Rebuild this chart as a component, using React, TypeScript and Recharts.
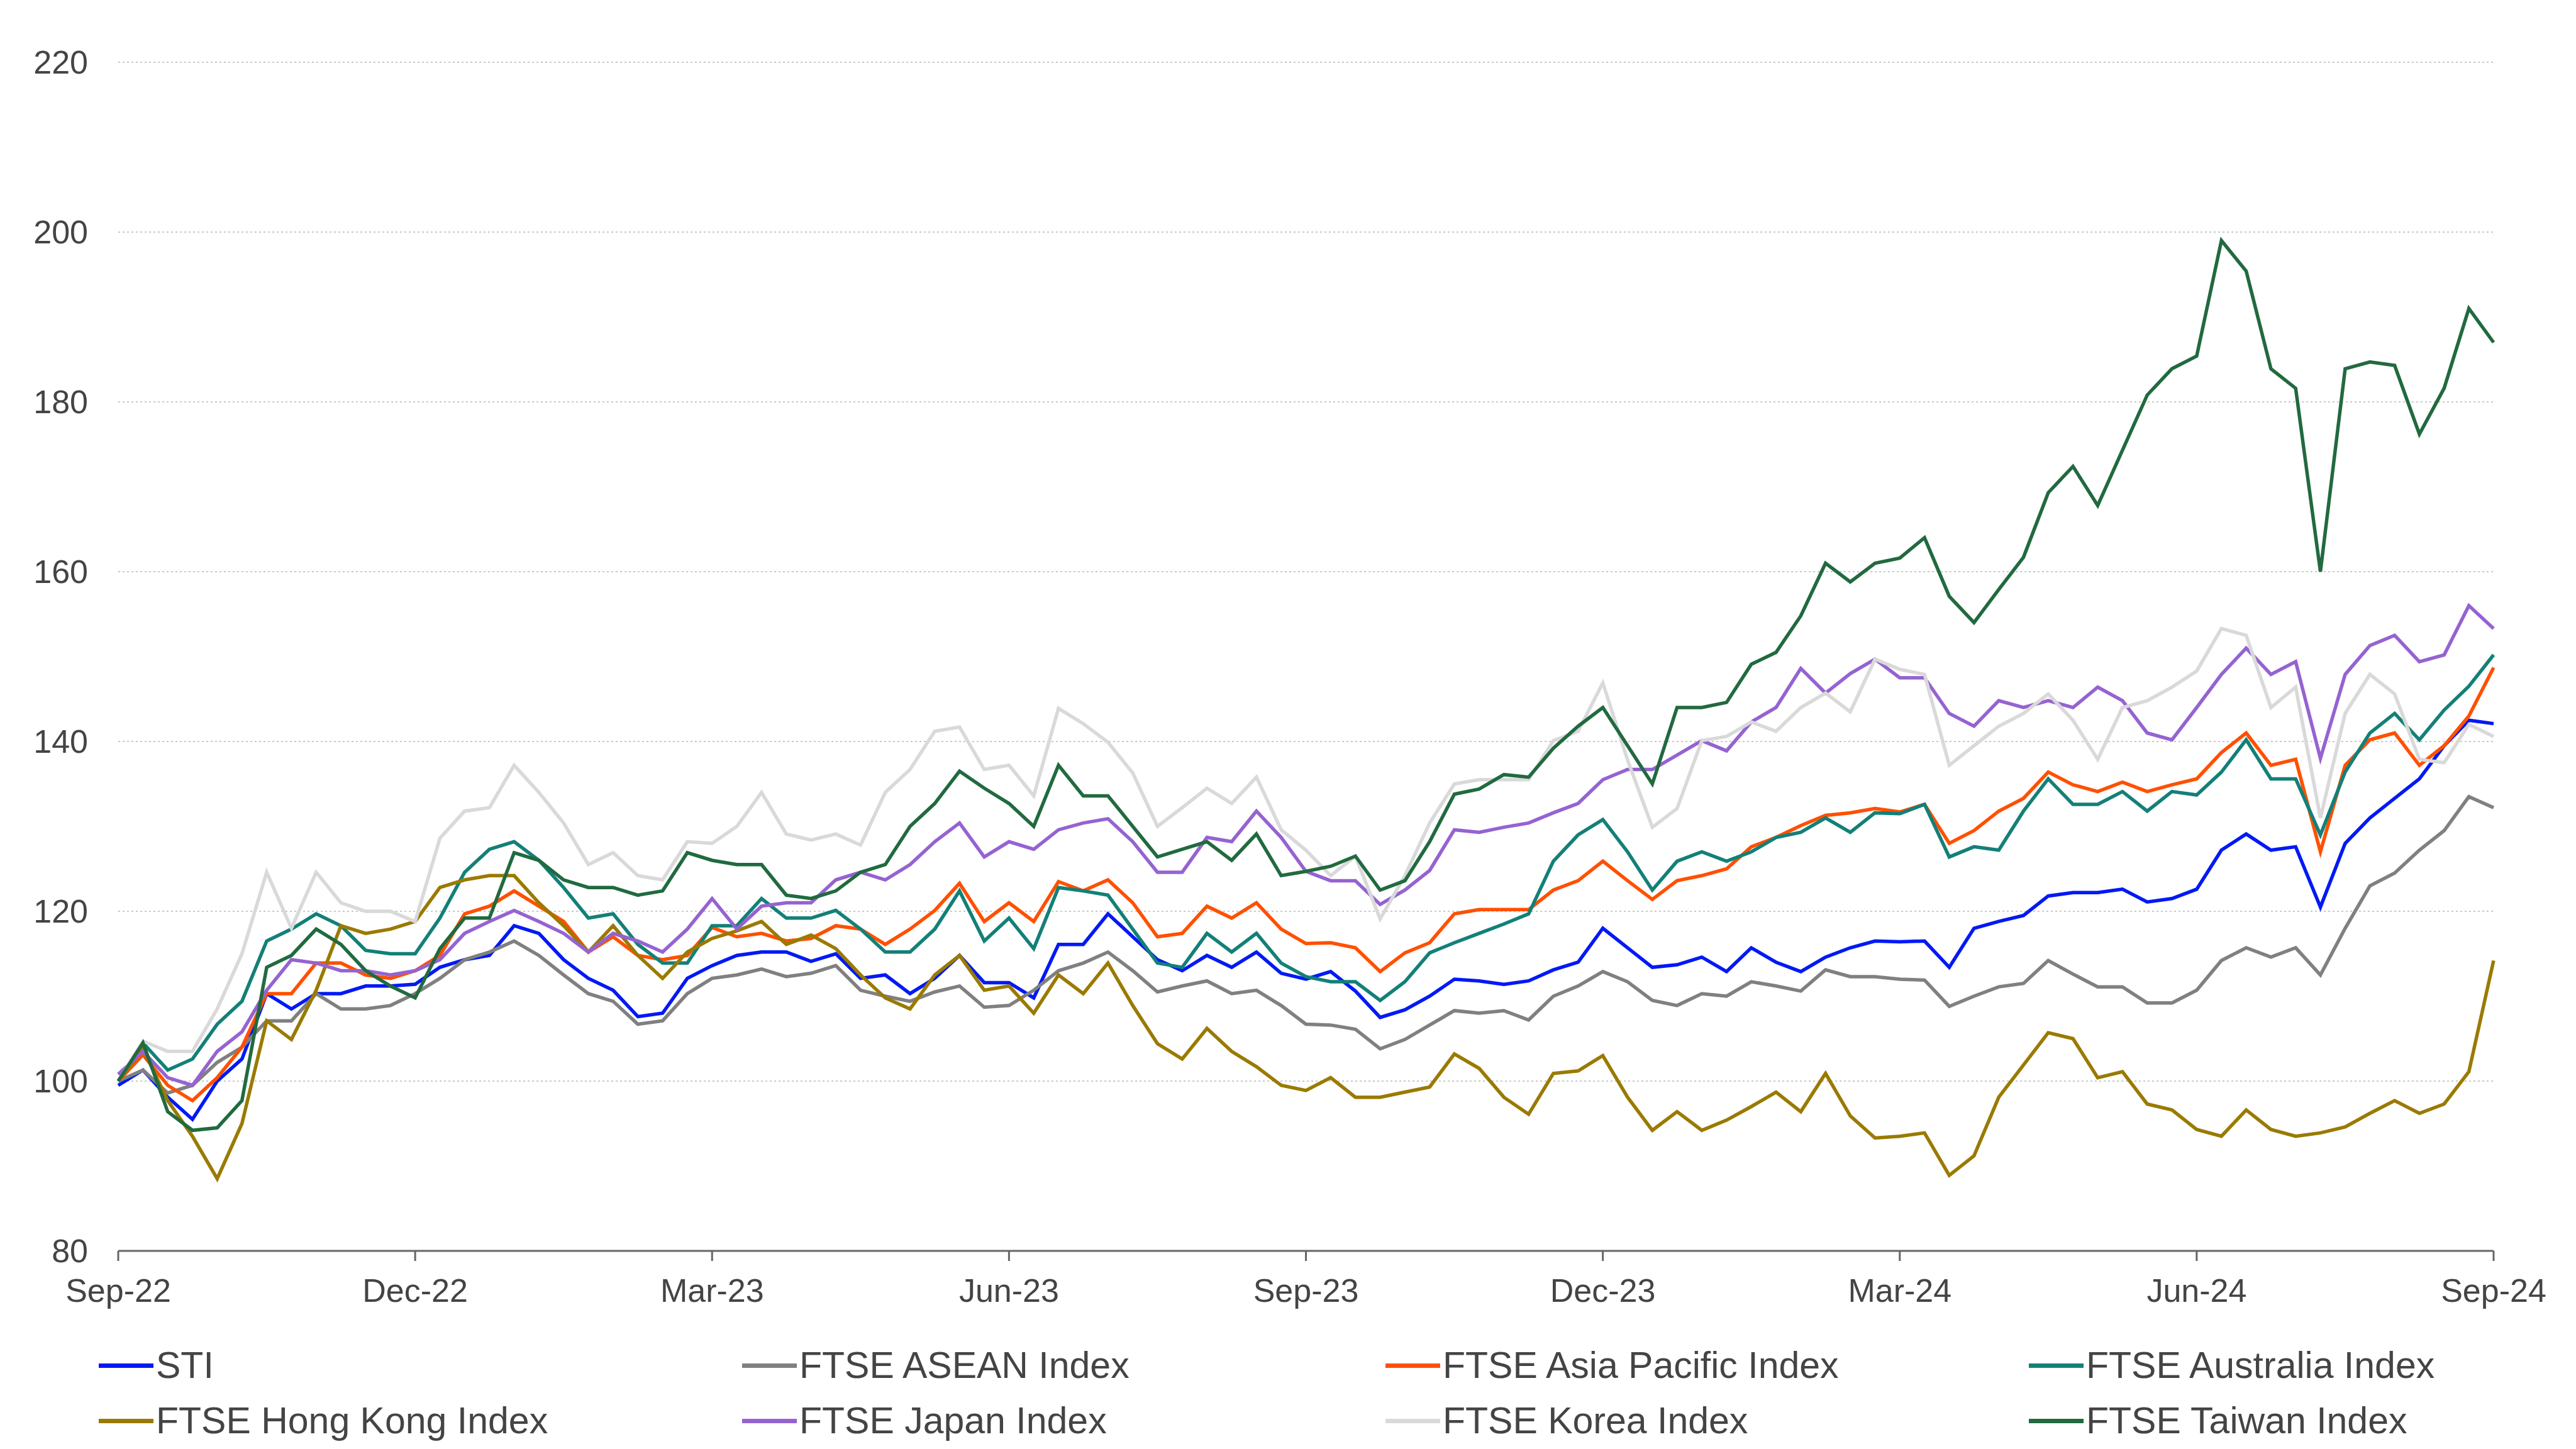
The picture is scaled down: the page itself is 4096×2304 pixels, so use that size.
import React from "react"
import { LineChart, Line, XAxis, YAxis, CartesianGrid } from "recharts"

// weekly samples, x measured in months from Sep-22
const weeks = Array.from({ length: 97 }, (_, i) => i / 4)

const tickLabels = ["Sep-22", "Dec-22", "Mar-23", "Jun-23", "Sep-23", "Dec-23", "Mar-24", "Jun-24", "Sep-24"]
const xTicks = [0, 3, 6, 9, 12, 15, 18, 21, 24]
const yTicks = [80, 100, 120, 140, 160, 180, 200, 220]

const sti = [
  99.5, 101.3, 98.1, 95.5, 100, 102.6, 110.3, 108.5, 110.3, 110.3, 111.2, 111.2, 111.4, 113.4, 114.3, 114.8, 118.3, 117.4, 114.3, 112.1, 110.7, 107.6, 108, 112.1, 113.6,
  114.8, 115.2, 115.2, 114.1, 115, 112.1, 112.5, 110.3, 112.1, 114.8, 111.6, 111.6, 109.8, 116.1, 116.1, 119.7, 117, 114.3, 113, 114.8, 113.4, 115.2, 112.7,
  112, 112.9, 110.6, 107.5, 108.4, 110, 112, 111.8, 111.4, 111.8, 113.1, 114, 118, 115.7, 113.4, 113.7, 114.6, 112.9, 115.7, 114, 112.9, 114.6, 115.7, 116.5,
  116.4, 116.5, 113.4, 118, 118.8, 119.5, 121.8, 122.2, 122.2, 122.6, 121.1, 121.5, 122.6, 127.2, 129.1, 127.2, 127.6, 120.5, 128, 131, 133.3, 135.6, 139.5, 142.5, 142.1,
]
const asean = [
  100, 101.3, 98.6, 99.5, 102.2, 104, 107.1, 107.1, 110.3, 108.5, 108.5, 108.9, 110.3, 112.1, 114.3, 115.2, 116.5, 114.8, 112.5, 110.3, 109.4, 106.7, 107.1, 110.3, 112.1,
  112.5, 113.2, 112.3, 112.7, 113.6, 110.7, 110, 109.4, 110.5, 111.2, 108.7, 108.9, 110.7, 113, 113.9, 115.2, 113, 110.5, 111.2, 111.8, 110.3, 110.7, 108.9,
  106.7, 106.6, 106.1, 103.8, 104.9, 106.6, 108.3, 108, 108.3, 107.2, 110, 111.2, 112.9, 111.7, 109.5, 108.9, 110.3, 110, 111.7, 111.2, 110.6, 113.1, 112.3, 112.3,
  112, 111.9, 108.8, 110, 111.1, 111.5, 114.2, 112.6, 111.1, 111.1, 109.2, 109.2, 110.7, 114.2, 115.7, 114.6, 115.7, 112.5, 118, 123, 124.5, 127.2, 129.5, 133.5, 132.2,
]
const asiaPacific = [
  100, 103.1, 99.5, 97.7, 100.4, 104, 110.3, 110.3, 113.9, 113.9, 112.5, 112.1, 113, 114.8, 119.7, 120.6, 122.4, 120.6, 118.8, 115.2, 117, 114.8, 114.3, 114.8, 118.1,
  117, 117.4, 116.5, 116.8, 118.3, 117.9, 116.1, 117.9, 120.1, 123.3, 118.8, 121, 118.8, 123.5, 122.4, 123.7, 121, 117, 117.4, 120.6, 119.2, 121, 117.9,
  116.2, 116.3, 115.7, 112.9, 115.1, 116.3, 119.7, 120.2, 120.2, 120.2, 122.5, 123.6, 125.9, 123.6, 121.4, 123.6, 124.2, 125, 127.6, 128.7, 130.1, 131.3, 131.6, 132.1,
  131.7, 132.6, 128, 129.5, 131.8, 133.3, 136.4, 134.9, 134.1, 135.2, 134.1, 134.9, 135.6, 138.7, 141, 137.2, 137.9, 127, 137.2, 140.2, 141, 137.2, 139.5, 143, 148.7,
]
const australia = [
  100, 104.5, 101.3, 102.6, 106.7, 109.4, 116.5, 117.9, 119.7, 118.3, 115.4, 115, 115, 119.2, 124.6, 127.3, 128.2, 126, 122.8, 119.2, 119.7, 116.1, 113.9, 113.9, 118.3,
  118.3, 121.5, 119.2, 119.2, 120.1, 117.9, 115.2, 115.2, 117.9, 122.4, 116.5, 119.2, 115.6, 122.8, 122.4, 121.9, 117.9, 113.9, 113.4, 117.4, 115.2, 117.4, 113.9,
  112.3, 111.7, 111.7, 109.5, 111.7, 115.1, 116.3, 117.4, 118.5, 119.7, 125.9, 129, 130.8, 127, 122.5, 125.9, 127, 125.9, 127, 128.7, 129.3, 131, 129.3, 131.6,
  131.5, 132.6, 126.4, 127.6, 127.2, 131.8, 135.6, 132.6, 132.6, 134.1, 131.8, 134.1, 133.7, 136.4, 140.2, 135.6, 135.6, 129, 136.4, 141, 143.3, 140.2, 143.7, 146.5, 150.2,
]
const hongKong = [
  100, 103.8, 97.7, 93.5, 88.5, 95, 107.1, 104.9, 110.7, 118.3, 117.4, 117.9, 118.8, 122.8, 123.7, 124.2, 124.2, 121, 118.3, 115.2, 118.3, 114.8, 112.1, 115.2, 116.8,
  117.7, 118.8, 116.1, 117.2, 115.6, 112.5, 109.8, 108.5, 112.5, 114.8, 110.7, 111.2, 108, 112.5, 110.3, 113.9, 108.9, 104.4, 102.6, 106.2, 103.5, 101.7, 99.5,
  98.9, 100.4, 98.1, 98.1, 98.7, 99.3, 103.2, 101.5, 98.1, 96.1, 100.9, 101.2, 103, 98.1, 94.2, 96.4, 94.2, 95.4, 97, 98.7, 96.4, 100.9, 95.9, 93.3,
  93.5, 93.9, 88.9, 91.2, 98.1, 101.9, 105.7, 105, 100.4, 101.1, 97.3, 96.6, 94.3, 93.5, 96.6, 94.3, 93.5, 93.9, 94.6, 96.2, 97.7, 96.2, 97.3, 101.1, 114.2,
]
const japan = [
  100.8, 103.5, 100.4, 99.5, 103.5, 105.8, 110.7, 114.3, 113.9, 113, 113, 112.5, 113, 114.3, 117.4, 118.8, 120.1, 118.8, 117.4, 115.2, 117.4, 116.5, 115.2, 117.9, 121.5,
  117.9, 120.6, 121, 121, 123.7, 124.6, 123.7, 125.5, 128.2, 130.4, 126.4, 128.2, 127.3, 129.6, 130.4, 130.9, 128.2, 124.6, 124.6, 128.7, 128.2, 131.8, 128.7,
  124.7, 123.6, 123.6, 120.8, 122.5, 124.8, 129.6, 129.3, 129.9, 130.4, 131.6, 132.7, 135.5, 136.7, 136.7, 138.4, 140.1, 138.9, 142.3, 144, 148.6, 145.7, 148, 149.7,
  147.5, 147.5, 143.3, 141.8, 144.8, 144, 144.8, 144, 146.4, 144.8, 141, 140.2, 144, 147.9, 151, 147.9, 149.4, 138, 147.9, 151.3, 152.5, 149.4, 150.2, 156, 153.3,
]
const korea = [
  100, 104.7, 103.5, 103.5, 108.5, 115, 124.6, 118, 124.6, 121, 120, 120, 118.8, 128.6, 131.8, 132.2, 137.2, 134, 130.4, 125.5, 126.9, 124.2, 123.7, 128.2, 128,
  130, 134, 129.1, 128.4, 129.1, 127.8, 134, 136.7, 141.2, 141.7, 136.7, 137.2, 133.6, 143.9, 142.1, 139.9, 136.3, 130, 132.2, 134.5, 132.7, 135.8, 129.6,
  127.2, 124.2, 126.5, 119.1, 124.2, 130.4, 135, 135.5, 135.5, 135.5, 140.1, 141.2, 146.9, 137.8, 129.9, 132.1, 140.1, 140.6, 142.3, 141.2, 144, 145.7, 143.5, 149.7,
  148.5, 147.9, 137.2, 139.5, 141.8, 143.3, 145.6, 142.5, 137.9, 144, 144.8, 146.4, 148.3, 153.3, 152.5, 144, 146.4, 131, 143.3, 147.9, 145.6, 137.9, 137.5, 142, 140.6,
]
const taiwan = [
  100, 104.5, 96.4, 94.2, 94.5, 97.7, 113.4, 114.8, 117.9, 116.1, 113, 111.2, 109.8, 115.6, 119.2, 119.2, 126.9, 126, 123.7, 122.8, 122.8, 121.9, 122.4, 126.9, 126,
  125.5, 125.5, 121.9, 121.5, 122.4, 124.6, 125.5, 130, 132.7, 136.5, 134.5, 132.7, 130, 137.2, 133.6, 133.6, 130, 126.4, 127.3, 128.2, 126, 129.1, 124.2,
  124.7, 125.3, 126.5, 122.5, 123.6, 128.2, 133.8, 134.4, 136.1, 135.8, 139.2, 141.8, 144, 139.5, 135, 144, 144, 144.6, 149.1, 150.5, 154.8, 161, 158.8, 161,
  161.6, 164, 157.1, 154, 157.9, 161.7, 169.3, 172.4, 167.8, 174.3, 180.8, 183.9, 185.4, 199, 195.4, 183.9, 181.6, 160, 183.9, 184.7, 184.3, 176.2, 181.6, 191, 187,
]

const series = [
  { key: "sti", name: "STI", color: "#0019f5", values: sti },
  { key: "asean", name: "FTSE ASEAN Index", color: "#808080", values: asean },
  { key: "asiaPacific", name: "FTSE Asia Pacific Index", color: "#ff5000", values: asiaPacific },
  { key: "australia", name: "FTSE Australia Index", color: "#138078", values: australia },
  { key: "hongKong", name: "FTSE Hong Kong Index", color: "#9a7a00", values: hongKong },
  { key: "japan", name: "FTSE Japan Index", color: "#9563d1", values: japan },
  { key: "korea", name: "FTSE Korea Index", color: "#d9d9d9", values: korea },
  { key: "taiwan", name: "FTSE Taiwan Index", color: "#216a3f", values: taiwan },
]

const data = weeks.map((m, i) => {
  const row: Record<string, number> = { m }
  series.forEach((s) => (row[s.key] = s.values[i]))
  return row
})

const font = "'Liberation Sans', Arial, sans-serif"
const textColor = "#444444"

function ChartLegend() {
  return (
    <div
      style={{
        position: "absolute",
        top: 2127,
        left: 157,
        width: 4096,
        display: "grid",
        gridTemplateColumns: "repeat(4, 1023px)",
        fontFamily: font,
        fontSize: 59,
        lineHeight: "88px",
        color: textColor,
      }}
    >
      {series.map((s) => (
        <div key={s.key} style={{ display: "flex", alignItems: "center", whiteSpace: "nowrap" }}>
          <span style={{ display: "inline-block", width: 87, height: 7, background: s.color, marginRight: 4 }} />
          <span>{s.name}</span>
        </div>
      ))}
    </div>
  )
}

export default function App() {
  return (
    <div style={{ position: "absolute", left: 0, top: 0, width: 4096, height: 2304, background: "#fff" }}>
      <LineChart width={4096} height={2304} data={data} margin={{ top: 99, right: 131, bottom: 0, left: 0 }}>
        <CartesianGrid vertical={false} stroke="#c8c8c8" strokeWidth={2} strokeDasharray="3 4" />
        <XAxis
          dataKey="m"
          type="number"
          domain={[0, 24]}
          ticks={xTicks}
          tickFormatter={(v: number) => tickLabels[v / 3]}
          height={315}
          axisLine={{ stroke: "#666", strokeWidth: 3 }}
          tickLine={{ stroke: "#666", strokeWidth: 3 }}
          tickSize={16}
          tickMargin={28}
          tick={{ fill: textColor, fontSize: 52, fontFamily: font }}
          interval={0}
        />
        <YAxis
          domain={[80, 220]}
          ticks={yTicks}
          width={188}
          axisLine={false}
          tickLine={false}
          tickSize={0}
          tickMargin={48}
          tick={{ fill: textColor, fontSize: 52, fontFamily: font }}
          interval={0}
        />
        {series.map((s) => (
          <Line
            key={s.key}
            dataKey={s.key}
            name={s.name}
            type="linear"
            stroke={s.color}
            strokeWidth={5.5}
            dot={false}
            isAnimationActive={false}
          />
        ))}
      </LineChart>
      <ChartLegend />
    </div>
  )
}
